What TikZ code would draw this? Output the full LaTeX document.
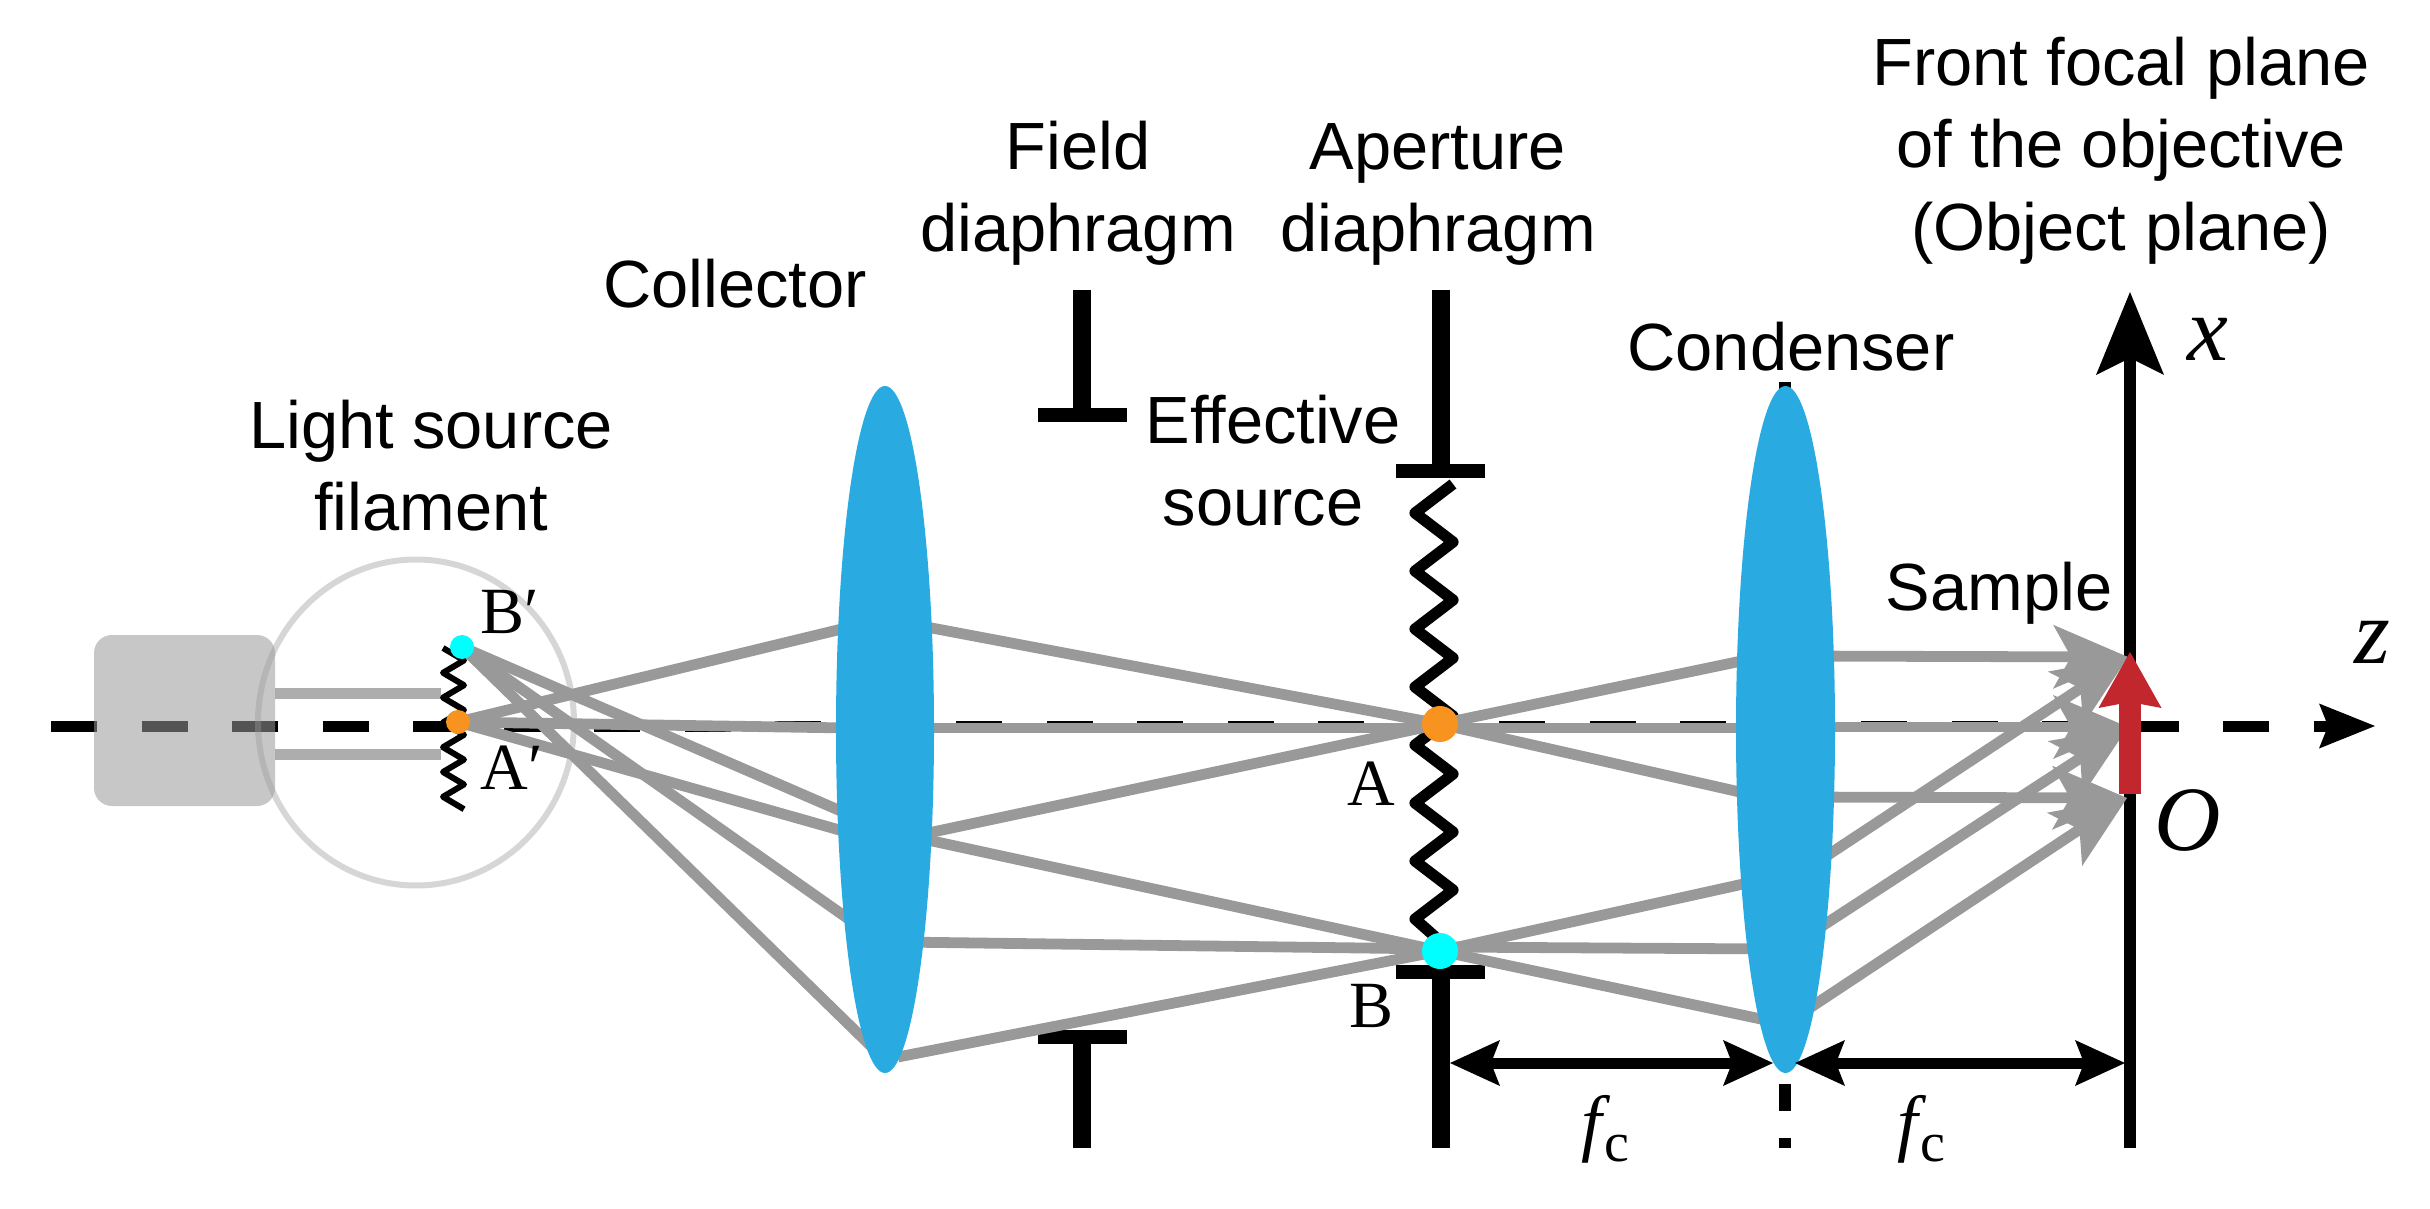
\documentclass[tikz,border=0pt]{standalone}
\usepackage{fontspec}
\setmainfont{Liberation Sans}
\newfontfamily\serifx{Liberation Serif}
\usetikzlibrary{arrows.meta}
\definecolor{ray}{HTML}{999999}
\definecolor{lensblue}{HTML}{29ABE2}
\definecolor{dotorange}{HTML}{F7931E}
\definecolor{dotcyan}{HTML}{00FFFF}
\definecolor{samplered}{HTML}{C1272D}
\definecolor{wire}{HTML}{ADADAD}
\tikzset{
  lab/.style={inner sep=0pt,align=center,anchor=base,font=\fontsize{33.4}{41}\selectfont},
  ser/.style={inner sep=0pt,anchor=base west,font=\serifx\fontsize{33}{33}\selectfont},
  ita/.style={inner sep=0pt,anchor=base west,font=\serifx\itshape\fontsize{46}{46}\selectfont},
  rayline/.style={draw=ray,line width=5.4pt},
  rayarrow/.style={rayline,-{Stealth[length=37.5pt,width=32pt,inset=9pt,line width=0pt]}},
  stop/.style={draw=black,line width=9pt},
  stopbar/.style={draw=black,line width=7pt},
  lens/.style={fill=lensblue},
  spot/.style={circle,inner sep=0pt,outer sep=0pt},
  dimarrow/.style={draw=black,line width=5.5pt,{Stealth[length=25pt,width=23pt,inset=4.5pt,line width=0pt]}-{Stealth[length=25pt,width=23pt,inset=4.5pt,line width=0pt]}},
}
\newcommand{\fcsym}{{\serifx\itshape\fontsize{37}{37}\selectfont f}\kern1.5pt\raisebox{-7pt}{\serifx\fontsize{28}{28}\selectfont c}}
\begin{document}
\begin{tikzpicture}[x=0.5pt,y=-0.5pt]
\useasboundingbox (0,0) rectangle (2430,1209);
% named points
\coordinate (axL) at (51,726);
\coordinate (axR) at (2375,726);
\coordinate (xtop) at (2130,292);
\coordinate (xbot) at (2130,1148);
\coordinate (tipT) at (2128,657);
\coordinate (tipM) at (2128,727);
\coordinate (tipB) at (2127,798);
% lamp wires
\draw[draw=wire,line width=5.5pt] (275,693) coordinate (w1) -- (441,693) coordinate (w2);
\draw[draw=wire,line width=5.5pt] (275,754) coordinate (w3) -- (441,754) coordinate (w4);
% optical axis and object-plane axis
\draw[line width=5.5pt,dash pattern=on 23pt off 22.25pt,-{Stealth[length=28pt,width=22.5pt,inset=4.5pt,line width=0pt]}] (axL) -- (axR);
\draw[line width=6pt,-{Stealth[length=41.5pt,width=34pt,inset=8.5pt,line width=0pt]}] (xbot) -- (xtop);
% lamp
\fill[ray,opacity=.55,rounded corners=9pt] (94,635) rectangle (275,806);
\draw[ray,opacity=.4,line width=3pt] (416,722.5) ellipse [x radius=158,y radius=163];
% filaments
\draw[line width=3pt,line join=round] (443,648)
  \foreach \k in {1,...,13}{ -- ({\k==int(\k/2)*2 ? 443 : 464},{648+12.4*\k}) };
\draw[line width=5.6pt,line join=round] (1453,484)
  \foreach \k in {1,...,15}{ -- ({\k==int(\k/2)*2 ? 1453 : 1415},{484+29*\k}) } -- (1441,942);
% diaphragms
\draw[stop] (1082,290) -- (1082,422);
\draw[stopbar] (1038,414.5) -- (1127,414.5);
\draw[stop] (1082,1030) -- (1082,1148);
\draw[stopbar] (1038,1037) -- (1127,1037);
\draw[stop] (1441,290) -- (1441,478);
\draw[stopbar] (1396,471) -- (1485,471);
\draw[stop] (1441,965) -- (1441,1148);
\draw[stopbar] (1396,971.5) -- (1485,971.5);
% condenser focal dashes
\draw[line width=6pt,dash pattern=on 13.5pt off 13.5pt] (1785,382) -- (1785,1148);
% dots (positions)
\path (458,722) node[spot,minimum size=12pt] (Ap) {};
\path (462,647) node[spot,minimum size=12pt] (Bp) {};
\path (1440,724) node[spot,minimum size=18pt] (A) {};
\path (1440,951) node[spot,minimum size=18pt] (B) {};
% rays: source to collector
\draw[rayline] (Ap.center) -- (850,627);
\draw[rayline] (Ap.center) -- (850,728);
\draw[rayline] (Ap.center) -- (850,833);
\draw[rayline] (Bp.center) -- (850,815);
\draw[rayline] (Bp.center) -- (850,920);
\draw[rayline] (Bp.center) -- (875,1050);
% rays: collector to aperture
\draw[rayline] (900,622) -- (A.center);
\draw[rayline] (900,728) -- (1440,728);
\draw[rayline] (900,839) -- (A.center);
\draw[rayline] (900,834) -- (B.center);
\draw[rayline] (900,942) -- (1440,949);
\draw[rayline] (898,1057) -- (B.center);
% rays: aperture to condenser
\draw[rayline] (A.center) -- (1775,654);
\draw[rayline] (1440,728) -- (1775,728);
\draw[rayline] (A.center) -- (1775,800);
\draw[rayline] (B.center) -- (1775,877);
\draw[rayline] (1440,947) -- (1775,949);
\draw[rayline] (B.center) -- (1775,1022);
% rays: condenser to sample
\draw[rayarrow] (1790,656) -- (tipT);
\draw[rayarrow] (1790,727) -- (tipM);
\draw[rayarrow] (1790,797) -- (tipB);
\draw[rayarrow] (1790,880) -- (tipT);
\draw[rayarrow] (1790,947) -- (tipM);
\draw[rayarrow] (1790,1021) -- (tipB);
% lenses
\fill[lens] (885,729.5) ellipse [x radius=49,y radius=343.5];
\fill[lens] (1785.5,729.5) ellipse [x radius=49.5,y radius=343.5];
% dots on top
\fill[dotorange] (Ap.center) circle (12);
\fill[dotcyan] (Bp.center) circle (12);
\fill[dotorange] (A.center) circle (18);
\fill[dotcyan] (B.center) circle (18);
% sample arrow
\draw[samplered,line width=11pt,-{Stealth[length=28pt,width=31.5pt,inset=3pt,line width=0pt]}] (2130,794) -- (2130,652);
% focal distance arrows
\coordinate (d1) at (1450,1063);
\coordinate (d2) at (1773,1063);
\coordinate (d3) at (1795,1063);
\coordinate (d4) at (2125,1063);
\draw[dimarrow] (d1) -- (d2);
\draw[dimarrow] (d3) -- (d4);
% labels
\node[lab] (lsrc) at (431,530) {Light source\\filament};
\node[lab] (coll) at (735,307) {Collector};
\node[lab] (fd) at (1078,252) {Field\\diaphragm};
\node[lab] (ad) at (1438,252) {Aperture\\diaphragm};
\node[lab] (es) at (1273,525) {Effective\\source\hspace*{10pt}};
\node[lab] (cond) at (1791,370) {Condenser};
\node[lab] (samp) at (1999,610) {Sample};
\node[lab] (ffp) at (2121,250) {Front focal plane\\of the objective\\(Object plane)};
\node[ser] (lBp) at (480,633) {B′};
\node[ser] (lAp) at (480,789) {A′};
\node[ser] (lA) at (1347,805) {A};
\node[ser] (lB) at (1349,1027) {B};
\node[ita] (lx) at (2187,360) {x};
\node[ita] (lz) at (2354,663) {z};
\node[ita] (lO) at (2154,850) {O};
\node[inner sep=0pt,anchor=base west] (f1) at (1581,1147) {\fcsym};
\node[inner sep=0pt,anchor=base west] (f2) at (1897,1147) {\fcsym};
\end{tikzpicture}
\end{document}
